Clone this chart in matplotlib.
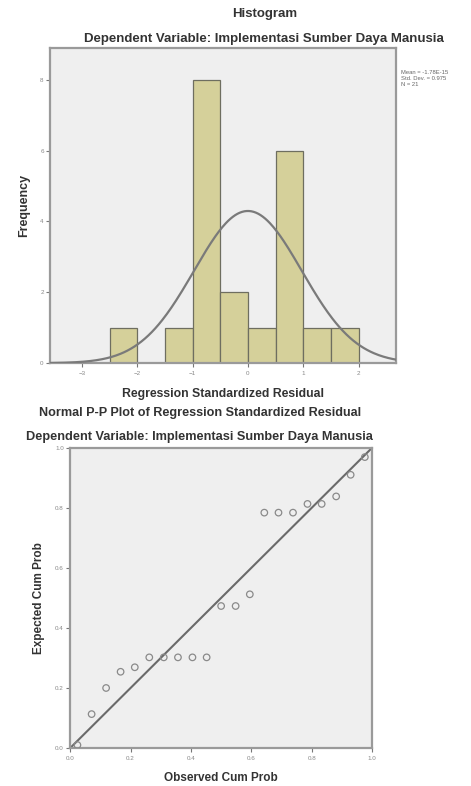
import numpy as np
import matplotlib
matplotlib.use("Agg")
import matplotlib.pyplot as plt

plt.rcParams['font.family'] = ['Liberation Sans', 'DejaVu Sans']

# histogram data
bin_edges = [-2.5, -2.0, -1.5, -1.0, -0.5, 0.0, 0.5, 1.0, 1.5, 2.0]
counts = [1, 0, 1, 8, 2, 1, 6, 1, 1]
res_mean = -1.78e-15
res_sd = 0.975
n_obs = 21

# p-p plot data
observed = [0.024, 0.071, 0.119, 0.167, 0.214, 0.262, 0.310, 0.357, 0.405, 0.452, 0.500,
            0.548, 0.595, 0.643, 0.690, 0.738, 0.786, 0.833, 0.881, 0.929, 0.976]
expected = [0.010, 0.113, 0.200, 0.254, 0.269, 0.302, 0.302, 0.302, 0.302, 0.302, 0.473,
            0.473, 0.512, 0.784, 0.784, 0.784, 0.813, 0.813, 0.838, 0.910, 0.969]

bg = '#efefef'
frame = '#9a9a9a'
txt = '#333333'
tickc = '#777777'

fig = plt.figure(figsize=(4.71, 7.86), dpi=100)

def style(ax):
    ax.set_facecolor(bg)
    for s in ax.spines.values():
        s.set_color(frame)
        s.set_linewidth(1.6)
    ax.tick_params(direction='out', length=3, width=0.8, color=tickc,
                   labelsize=4.5, labelcolor='#888888', pad=1.5)
    ax.tick_params(axis='x', pad=3)

# ---- histogram
ax1 = fig.add_axes([0.106, 0.538, 0.735, 0.401])
style(ax1)
bw = bin_edges[1] - bin_edges[0]
ax1.bar(bin_edges[:-1], counts, width=bw, align='edge', color='#d5d09a',
        edgecolor='#6e6e60', linewidth=0.9, zorder=2)
xs = np.linspace(-3.58, 2.68, 300)
pdf = n_obs * bw / (res_sd * np.sqrt(2 * np.pi)) * np.exp(-0.5 * ((xs - res_mean) / res_sd) ** 2)
ax1.plot(xs, pdf, color='#7a7a7a', lw=1.6, zorder=3)
ax1.set_xlim(-3.58, 2.68)
ax1.set_ylim(0, 8.9)
ax1.set_xticks([-3, -2, -1, 0, 1, 2])
ax1.set_yticks([0, 2, 4, 6, 8])
ax1.set_xlabel('Regression Standardized Residual', fontsize=8.8, fontweight='bold', color=txt, labelpad=8)
ax1.set_ylabel('Frequency', fontsize=9, fontweight='bold', color=txt, labelpad=7)
fig.text(265 / 471, 1 - 14 / 786, 'Histogram', ha='center', va='center', fontsize=9.5,
         fontweight='bold', color=txt)
fig.text(264 / 471, 1 - 39 / 786, 'Dependent Variable: Implementasi Sumber Daya Manusia', ha='center',
         va='center', fontsize=9.5, fontweight='bold', color=txt)
fig.text(401 / 471, 1 - 70 / 786, 'Mean = %.2E\nStd. Dev. = %.3f\nN = %d' % (res_mean, res_sd, n_obs),
         ha='left', va='top', fontsize=4.2, color='#666666', linespacing=1.3)

# ---- p-p plot
ax2 = fig.add_axes([0.149, 0.0483, 0.641, 0.382])
style(ax2)
ax2.plot([0, 1], [0, 1], color='#6a6a6a', lw=1.5, zorder=2)
ax2.scatter(observed, expected, s=22, facecolors='none', edgecolors='#8a8a8a', linewidths=0.9, zorder=3)
ax2.set_xlim(0, 1)
ax2.set_ylim(0, 1)
ticks = [0.0, 0.2, 0.4, 0.6, 0.8, 1.0]
ax2.set_xticks(ticks)
ax2.set_yticks(ticks)
ax2.set_xticklabels(['%.1f' % t for t in ticks])
ax2.set_yticklabels(['%.1f' % t for t in ticks])
ax2.set_xlabel('Observed Cum Prob', fontsize=8.5, fontweight='bold', color=txt, labelpad=8)
ax2.set_ylabel('Expected Cum Prob', fontsize=8.5, fontweight='bold', color=txt, labelpad=7)
fig.text(200 / 471, 1 - 413 / 786, 'Normal P-P Plot of Regression Standardized Residual', ha='center',
         va='center', fontsize=9.1, fontweight='bold', color=txt)
fig.text(199 / 471, 1 - 437 / 786, 'Dependent Variable: Implementasi Sumber Daya Manusia', ha='center',
         va='center', fontsize=9.2, fontweight='bold', color=txt)

fig.savefig('out.png', dpi=100, facecolor='white')
